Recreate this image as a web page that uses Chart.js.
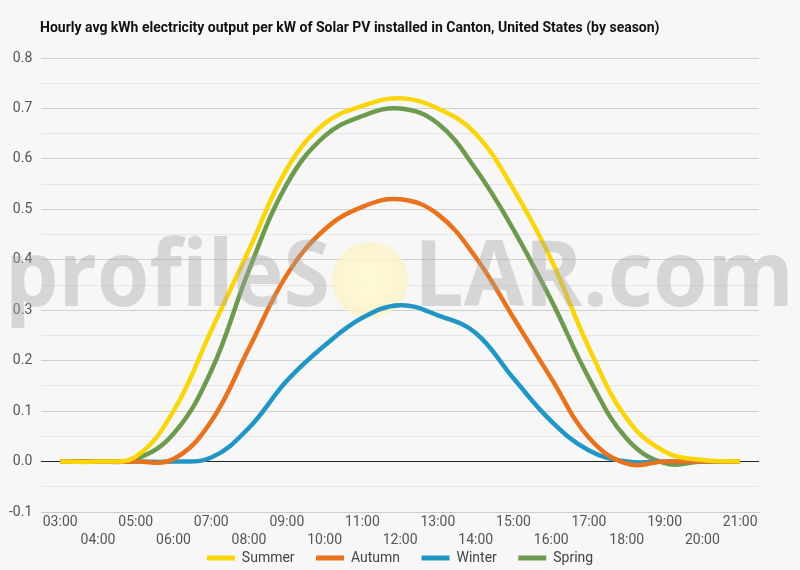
<!DOCTYPE html>
<html>
<head>
<meta charset="utf-8">
<script src="https://cdn.jsdelivr.net/npm/chart.js@4.4.0/dist/chart.umd.min.js"></script>
<style>
  body { margin: 0; background: #f7f7f7; }
  #wrap { width: 800px; height: 570px; }
</style>
</head>
<body>
<div id="wrap"><canvas id="solarChart"></canvas></div>
<script>
var chartTitle = 'Hourly avg kWh electricity output per kW of Solar PV installed in Canton, United States (by season)';
var hours = ['03:00', '04:00', '05:00', '06:00', '07:00', '08:00', '09:00', '10:00', '11:00', '12:00',
             '13:00', '14:00', '15:00', '16:00', '17:00', '18:00', '19:00', '20:00', '21:00'];
var summer = [0, 0, 0.01, 0.10, 0.26, 0.42, 0.58, 0.67, 0.705, 0.72, 0.70, 0.65, 0.54, 0.40, 0.225, 0.085, 0.02, 0.003, 0];
var autumn = [0, 0, 0, 0.005, 0.08, 0.225, 0.37, 0.46, 0.505, 0.52, 0.49, 0.405, 0.285, 0.165, 0.047, -0.004, 0, 0, 0];
var winter = [0, 0, 0, 0, 0.008, 0.067, 0.16, 0.23, 0.285, 0.31, 0.29, 0.255, 0.165, 0.08, 0.022, 0, 0, 0, 0];
var spring = [0, 0, 0.005, 0.055, 0.18, 0.38, 0.55, 0.645, 0.685, 0.70, 0.67, 0.58, 0.46, 0.32, 0.165, 0.045, -0.003, 0, 0];

// title at the top left plus the faint "profileSOLAR.com" watermark
var decorations = {
    id: 'decorations',
    beforeDatasetsDraw: function(chart) {
        var ctx = chart.ctx;
        ctx.save();
        var g = ctx.createRadialGradient(370, 280, 5, 370, 280, 39);
        g.addColorStop(0, 'rgba(255,250,205,0.85)');
        g.addColorStop(1, 'rgba(252,242,195,0.75)');
        ctx.fillStyle = g;
        ctx.beginPath();
        ctx.arc(370, 280, 38, 0, Math.PI * 2);
        ctx.fill();
        ctx.restore();
    },
    afterDatasetsDraw: function(chart) {
        var ctx = chart.ctx;
        ctx.save();
        ctx.fillStyle = 'rgba(165,165,165,0.4)';
        ctx.font = '700 92px "Open Sans"';
        ctx.textBaseline = 'alphabetic';
        var w1 = ctx.measureText('profileS').width;
        ctx.setTransform(325 / w1, 0, 0, 1, 5, 306);
        ctx.fillText('profileS', 0, 0);
        ctx.setTransform(1, 0, 0, 1, 0, 0);
        var w2 = ctx.measureText('LAR.com').width;
        ctx.setTransform(380 / w2, 0, 0, 1, 414, 306);
        ctx.fillText('LAR.com', 0, 0);
        ctx.setTransform(1, 0, 0, 1, 0, 0);

        ctx.fillStyle = '#111';
        ctx.font = 'bold 14px Roboto';
        ctx.textBaseline = 'middle';
        ctx.fillText(chartTitle, 40, 28);
        ctx.restore();
    }
};

function series(label, data, color) {
    return {
        label: label,
        data: data,
        borderColor: color,
        backgroundColor: color,
        borderWidth: 4.5,
        pointRadius: 0,
        tension: 0.4,
        fill: false
    };
}

var ctx = document.getElementById('solarChart').getContext('2d');
var chart = new Chart(ctx, {
    type: 'line',
    data: {
        labels: hours,
        datasets: [
            series('Summer', summer, '#f9d50a'),
            series('Autumn', autumn, '#e8731f'),
            series('Winter', winter, '#2196c4'),
            series('Spring', spring, '#6e9a50')
        ]
    },
    options: {
        responsive: true,
        maintainAspectRatio: false,
        animation: false,
        layout: { padding: { left: 0, right: 0, top: 58, bottom: -5 } },
        plugins: {
            legend: {
                position: 'bottom',
                labels: {
                    color: '#444',
                    font: { family: 'Roboto', size: 14 },
                    boxWidth: 28,
                    boxHeight: 5,
                    padding: 0,
                    // widen the gap between entries without a tall legend box
                    generateLabels: function(c) {
                        var items = Chart.defaults.plugins.legend.labels.generateLabels(c);
                        items.forEach(function(it, i) {
                            it.lineWidth = 0;
                            it.fillStyle = it.strokeStyle;
                            if (i < items.length - 1) it.text = it.text + '\u2003\u2002';
                        });
                        return items;
                    }
                }
            },
            tooltip: { enabled: false }
        },
        scales: {
            x: {
                offset: true,
                grid: { display: false, drawTicks: false },
                border: { display: true, color: '#ccc' },
                ticks: {
                    color: '#555',
                    font: { family: 'Roboto', size: 14, lineHeight: 1.25 },
                    autoSkip: false,
                    maxRotation: 0,
                    padding: 2,
                    callback: function(v, i) {
                        return i % 2 === 0 ? hours[i] : ['', hours[i]];
                    }
                }
            },
            y: {
                min: -0.1,
                max: 0.8,
                border: { display: false },
                grid: {
                    drawTicks: false,
                    color: function(c) {
                        var v = Math.round(c.tick.value * 100);
                        if (v === 0) return '#222';
                        return v % 10 === 0 ? '#cfcfcf' : '#e6e6e6';
                    }
                },
                ticks: {
                    stepSize: 0.05,
                    color: '#555',
                    padding: 9,
                    font: { family: 'Roboto', size: 14 },
                    callback: function(v) {
                        var r = Math.round(v * 100);
                        return r % 10 === 0 ? (r / 100).toFixed(1) : '';
                    }
                }
            },
            // empty right-hand axis, only keeps a margin so the legend stays centred on the page
            spacer: {
                type: 'linear',
                position: 'right',
                min: 0,
                max: 1,
                grid: { display: false, drawTicks: false },
                border: { display: false },
                ticks: { display: false },
                afterFit: function(s) { s.width = 41; }
            }
        }
    },
    plugins: [decorations]
});
</script>
</body>
</html>
